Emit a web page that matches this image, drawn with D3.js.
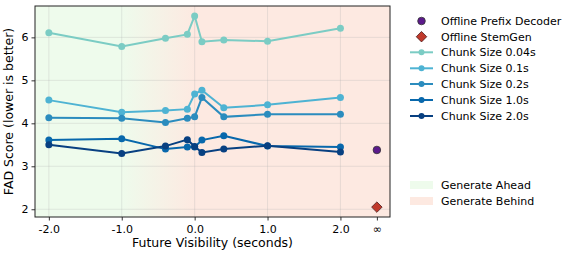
<!DOCTYPE html>
<html><head><meta charset="utf-8">
<script src="https://cdn.jsdelivr.net/npm/d3@7"></script>
<style>body{margin:0;background:#fff}svg{display:block;font-family:"DejaVu Sans",sans-serif}</style>
</head><body><svg id="c" width="570" height="256"></svg>
<script>
const xs = [-2, -1, -0.4, -0.1, 0, 0.1, 0.4, 1, 2];
const seriesNames = ["Chunk Size 0.04s","Chunk Size 0.1s","Chunk Size 0.2s","Chunk Size 1.0s","Chunk Size 2.0s"];
const seriesColors = ["#7bccc4","#4eb3d3","#2b8cbe","#0868ac","#084081"];
const s004 = [6.11, 5.79, 5.98, 6.07, 6.50, 5.90, 5.94, 5.91, 6.21];
const s01  = [4.54, 4.26, 4.30, 4.33, 4.68, 4.77, 4.36, 4.43, 4.60];
const s02  = [4.13, 4.12, 4.02, 4.12, 4.15, 4.60, 4.15, 4.21, 4.21];
const s10  = [3.61, 3.64, 3.40, 3.45, 3.45, 3.61, 3.71, 3.47, 3.45];
const s20  = [3.50, 3.30, 3.47, 3.62, 3.46, 3.32, 3.40, 3.48, 3.33];
const seriesValues = [s004, s01, s02, s10, s20];
const infX = 2.5;
const prefixDecoder = 3.38;
const stemGen = 2.05;
const xTicks = [-2, -1, 0, 1, 2, infX];
const xTickLabels = ["-2.0","-1.0","0.0","1.0","2.0","∞"];
const yTicks = [2,3,4,5,6];

const svg = d3.select("#c");
const L=35, R=390, T=6, B=217;
const x = d3.scaleLinear().domain([-2.19, 2.68]).range([L, R]);
const y = d3.scaleLinear().domain([1.82, 6.73]).range([B, T]);

// background gradient
const defs = svg.append("defs");
const g = defs.append("linearGradient").attr("id","bg").attr("gradientUnits","userSpaceOnUse")
  .attr("x1", x(-1)).attr("x2", x(0)).attr("y1",0).attr("y2",0);
g.append("stop").attr("offset","0%").attr("stop-color","#eefbec");
g.append("stop").attr("offset","100%").attr("stop-color","#fde9e1");
svg.append("rect").attr("x",L).attr("y",T).attr("width",R-L).attr("height",B-T).attr("fill","url(#bg)");

// grid
svg.append("g").selectAll("line").data(xTicks.slice(0,5)).join("line")
  .attr("x1",d=>x(d)).attr("x2",d=>x(d)).attr("y1",T).attr("y2",B)
  .attr("stroke","#b0b0b0").attr("stroke-opacity",0.35).attr("stroke-width",0.8);
svg.append("g").selectAll("line").data(yTicks).join("line")
  .attr("x1",L).attr("x2",R).attr("y1",d=>y(d)).attr("y2",d=>y(d))
  .attr("stroke","#b0b0b0").attr("stroke-opacity",0.35).attr("stroke-width",0.8);

// axes
const xAxis = d3.axisBottom(x).tickValues(xTicks).tickFormat((d,i)=>xTickLabels[i]).tickSize(3.5).tickPadding(3);
const gx = svg.append("g").attr("transform",`translate(0,${B})`).call(xAxis);
const yAxis = d3.axisLeft(y).tickValues(yTicks).tickFormat(d3.format("d")).tickSize(3.5).tickPadding(3);
const gy = svg.append("g").attr("transform",`translate(${L},0)`).call(yAxis);
[gx,gy].forEach(a=>{a.select(".domain").remove();
  a.selectAll("text").attr("font-size",11).attr("fill","#000").style("font-family","DejaVu Sans");
  a.selectAll("line").attr("stroke","#333");});
gx.selectAll("text").attr("dy","0.9em");

// lines
const line = d3.line().x(d=>x(d[0])).y(d=>y(d[1]));
seriesValues.forEach((vals,i)=>{
  const pts = xs.map((xv,j)=>[xv, vals[j]]);
  const gg = svg.append("g");
  gg.append("path").attr("d",line(pts)).attr("fill","none").attr("stroke",seriesColors[i]).attr("stroke-width",2);
  gg.selectAll("circle").data(pts).join("circle").attr("cx",d=>x(d[0])).attr("cy",d=>y(d[1])).attr("r",3.5).attr("fill",seriesColors[i]);
});
// offline
svg.append("circle").attr("cx",x(infX)).attr("cy",y(prefixDecoder)).attr("r",3.8).attr("fill","#5c1a8c").attr("stroke","#333").attr("stroke-width",0.8);
const sym = d3.symbol().type(d3.symbolDiamond2).size(70);
svg.append("path").attr("d",sym()).attr("transform",`translate(${x(infX)},${y(stemGen)})`).attr("fill","#c0392b").attr("stroke","#4a1a1a").attr("stroke-width",0.8);

// frame
svg.append("rect").attr("x",L).attr("y",T).attr("width",R-L).attr("height",B-T).attr("fill","none").attr("stroke","#222").attr("stroke-width",1);

// labels
svg.append("text").attr("x",(L+R)/2).attr("y",247).attr("text-anchor","middle").attr("font-size",12.5).text("Future Visibility (seconds)");
svg.append("text").attr("transform",`translate(13,${(T+B)/2}) rotate(-90)`).attr("text-anchor","middle").attr("font-size",12.5).text("FAD Score (lower is better)");

// legend
const lg = svg.append("g").style("font-size","11px");
const lx = 421.5, tx = 441;
const rows = [21, 36.7, 52.3, 68.3, 84, 100, 116];
lg.append("circle").attr("cx",lx).attr("cy",rows[0]).attr("r",3.8).attr("fill","#5c1a8c").attr("stroke","#333").attr("stroke-width",0.8);
lg.append("path").attr("d",sym()).attr("transform",`translate(${lx},${rows[1]})`).attr("fill","#c0392b").attr("stroke","#4a1a1a").attr("stroke-width",0.8);
lg.append("text").attr("x",tx).attr("y",rows[0]).attr("dy","0.35em").text("Offline Prefix Decoder");
lg.append("text").attr("x",tx).attr("y",rows[1]).attr("dy","0.35em").text("Offline StemGen");
seriesNames.forEach((n,i)=>{
  const yy = rows[i+2];
  lg.append("line").attr("x1",410).attr("x2",433).attr("y1",yy).attr("y2",yy).attr("stroke",seriesColors[i]).attr("stroke-width",2);
  lg.append("circle").attr("cx",lx).attr("cy",yy).attr("r",3).attr("fill",seriesColors[i]);
  lg.append("text").attr("x",tx).attr("y",yy).attr("dy","0.35em").text(n);
});
lg.append("rect").attr("x",410).attr("y",181).attr("width",23).attr("height",8).attr("fill","#eefbec");
lg.append("rect").attr("x",410).attr("y",197).attr("width",23).attr("height",8).attr("fill","#fde9e1");
lg.append("text").attr("x",tx).attr("y",185).attr("dy","0.35em").text("Generate Ahead");
lg.append("text").attr("x",tx).attr("y",201).attr("dy","0.35em").text("Generate Behind");
</script></body></html>
